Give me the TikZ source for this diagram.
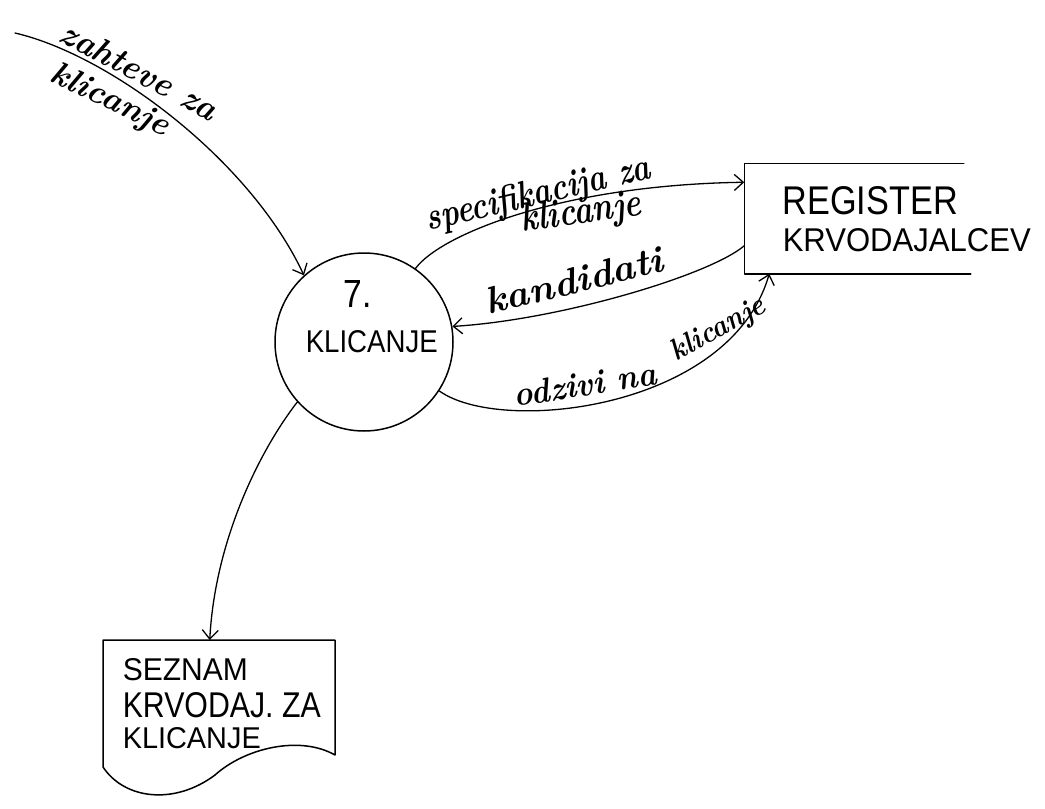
\documentclass[tikz,border=0pt]{standalone}
\usepackage{fontspec}
\usepackage{graphicx}
\usetikzlibrary{arrows.meta,calc}
\newfontfamily\capsfont{Liberation Sans}
% fit a piece of text into a given width and height
\newcommand\fittext[3]{\resizebox{#1}{#2}{#3}}
\begin{document}
\begin{tikzpicture}[x=1pt,y=-1pt,
  line width=1.5pt, line cap=round, line join=round,
  flow/.style={-{Straight Barb[length=9pt,width=16pt]}, line width=1.3pt},
  caps/.style={inner sep=0pt, anchor=base west, font=\capsfont},
  hand/.style={inner sep=0pt, anchor=base west, font=\fontsize{30}{32}\selectfont\bfseries\itshape}]
\useasboundingbox (0,0) rectangle (1045,809);

% process
\node[circle, draw, minimum size=178pt, inner sep=0pt] (proc) at (364,342) {};
\node[caps] (pnum) at (343,307) {\fittext{28pt}{27pt}{7.}};
\node[caps] (pname) at (305,352) {\fittext{132pt}{22pt}{KLICANJE}};

% data store, open on the right
\node[minimum width=223pt, minimum height=109pt, inner sep=0pt] (reg) at (856.5,218.5) {};
\draw ([xshift=-5pt]reg.north east) -- (reg.north west) -- (reg.south west) -- ([xshift=2pt]reg.south east);
\node[caps] (regA) at (782,214) {\fittext{175pt}{28pt}{REGISTER}};
\node[caps] (regB) at (782,251) {\fittext{248pt}{23pt}{KRVODAJALCEV}};

% document
\node[minimum width=232pt, minimum height=127pt, inner sep=0pt, anchor=north west] (doc) at (103,640) {};
\draw (103,640) -- (103,767) .. controls (125,800) and (175,805) .. (215,775)
      .. controls (245,748) and (300,735) .. (335,755) -- (335,640) -- cycle;
\node[caps] (docA) at (122,680) {\fittext{125pt}{22pt}{SEZNAM}};
\node[caps] (docB) at (122,717) {\fittext{198pt}{25pt}{KRVODAJ.\ ZA}};
\node[caps] (docC) at (122,748) {\fittext{138pt}{21pt}{KLICANJE}};

% flows
\coordinate (src) at (15,33);
\draw[flow] (src) .. controls (110,55) and (250,160) .. (proc.132);
\draw[flow] (proc.55) .. controls (440,235) and (560,185) .. ([yshift=-19pt]reg.north west);
\draw[flow] ([yshift=28pt]reg.south west) .. controls (710,275) and (560,320) .. (proc.10);
\draw[flow] (proc.-33) .. controls (500,435) and (730,410) .. ([xshift=25pt]reg.south west);
\draw[flow] (proc.222) .. controls (260,450) and (215,540) .. ([xshift=-10pt]doc.north);

% flow labels
\node[hand, rotate=-28] (lz1) at (57,40) {\fittext{173pt}{24pt}{zahteve za}};
\node[hand, rotate=-26] (lz2) at (48,80) {\fittext{128pt}{23pt}{klicanje}};
\node[hand, rotate=13.3] (ls1) at (428,231) {\fittext{230pt}{27pt}{specifikacija za}};
\node[hand, rotate=8] (ls2) at (522,232) {\fittext{121pt}{28pt}{klicanje}};
\node[hand, rotate=14] (lk) at (488,315) {\fittext{182pt}{26pt}{kandidati}};
\node[hand, rotate=9] (lo1) at (515,407) {\fittext{144pt}{24pt}{odzivi na}};
\node[hand, rotate=29] (lo2) at (676,362) {\fittext{104pt}{21pt}{klicanje}};
\end{tikzpicture}
\end{document}
